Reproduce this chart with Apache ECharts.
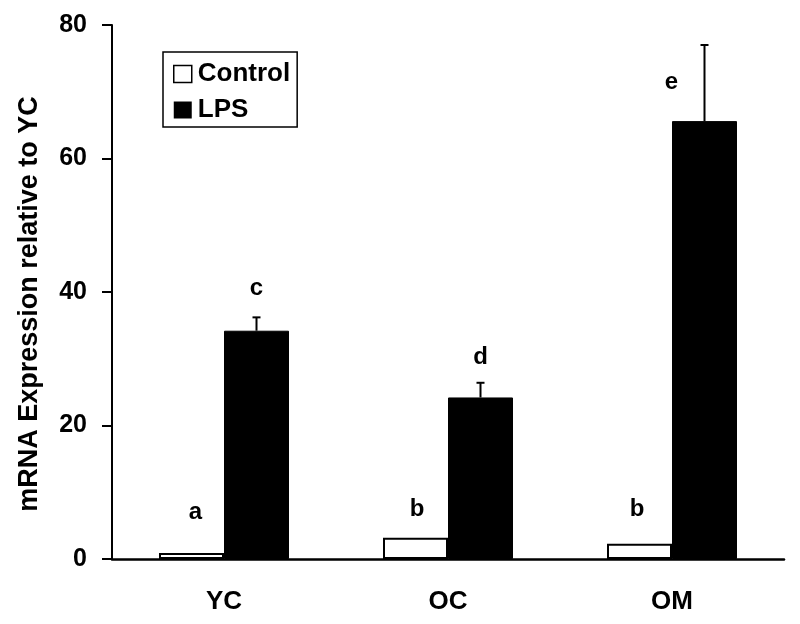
<!DOCTYPE html>
<html>
<head>
<meta charset="utf-8">
<script src="https://cdn.jsdelivr.net/npm/echarts@6/dist/echarts.min.js"></script>
<style>
html,body{margin:0;padding:0;background:#fff;}
#chart{width:800px;height:624px;}
</style>
</head>
<body>
<div id="chart"></div>
<script>
// ---- data ----
const categories = ['YC', 'OC', 'OM'];
const seriesNames = ['Control', 'LPS'];
const controlValues = [0.9, 3.2, 2.3];
const controlErrors = [0, 0, 0];
const lpsValues = [34.2, 24.2, 65.6];
const lpsErrors = [2.0, 2.2, 11.4];
const controlLetters = ['a', 'b', 'b'];
const lpsLetters = ['c', 'd', 'e'];
const yTicks = { min: 0, max: 80, interval: 20 };
const yAxisTitle = 'mRNA Expression relative to YC';

// ---- style ----
const FONT = "'Liberation Sans', Arial, sans-serif";
const BAR_W = 65;
const controlLetterOffset = [[4, -41], [1.5, -28], [-2.5, -34]];
const lpsLetterOffset = [[0, -29], [0, -25], [-33, 37]];

function makeRender(dx, letters, offsets) {
  return function (params, api) {
    const i = api.value(0), v = api.value(1), e = api.value(2);
    const base = api.coord([i, v]);
    const top = api.coord([i, v + e]);
    const x = base[0] + dx;
    const children = [];
    if (e > 0) {
      children.push({ type: 'line', shape: { x1: x, y1: base[1], x2: x, y2: top[1] }, style: { stroke: '#000', lineWidth: 2 } });
      children.push({ type: 'line', shape: { x1: x - 4, y1: top[1], x2: x + 4, y2: top[1] }, style: { stroke: '#000', lineWidth: 2 } });
    }
    const off = offsets[params.dataIndex];
    children.push({
      type: 'text',
      style: {
        x: x + off[0], y: top[1] + off[1], text: letters[params.dataIndex],
        fill: '#000', font: 'bold 24px ' + FONT, align: 'center', verticalAlign: 'middle'
      }
    });
    return { type: 'group', children: children };
  };
}

const chart = echarts.init(document.getElementById('chart'));
chart.setOption({
  backgroundColor: '#fff',
  animation: false,
  grid: { left: 112, right: 16, top: 25, bottom: 65 },
  legend: {
    orient: 'vertical', left: 163, top: 52,
    data: [
      { name: seriesNames[0], itemStyle: { color: '#fff', borderColor: '#000', borderWidth: 1.5 } },
      { name: seriesNames[1], itemStyle: { color: '#000', borderWidth: 0 } }
    ],
    itemWidth: 18, itemHeight: 17, itemGap: 10,
    padding: [9, 7, 4, 10],
    borderColor: '#000', borderWidth: 1.5,
    icon: 'rect',
    textStyle: { fontFamily: FONT, fontSize: 26, fontWeight: 'bold', color: '#000', padding: [0, 0, 0, 1] }
  },
  xAxis: {
    type: 'category', data: categories,
    axisLine: { lineStyle: { color: '#000', width: 2.5 } },
    axisTick: { show: false },
    axisLabel: { fontFamily: FONT, fontSize: 26, fontWeight: 'bold', color: '#000', margin: 30 }
  },
  yAxis: {
    type: 'value', min: yTicks.min, max: yTicks.max, interval: yTicks.interval,
    name: yAxisTitle, nameLocation: 'middle', nameGap: 69,
    nameTextStyle: { fontFamily: FONT, fontSize: 27, fontWeight: 'bold', color: '#000', padding: [0, 24, 0, 0] },
    axisLine: { show: true, lineStyle: { color: '#000', width: 2 } },
    axisTick: { show: true, length: 10, lineStyle: { color: '#000', width: 2 } },
    splitLine: { show: false },
    axisLabel: { fontFamily: FONT, fontSize: 25, fontWeight: 'bold', color: '#000', margin: 25 }
  },
  series: [
    {
      name: seriesNames[0], type: 'bar', data: controlValues, barWidth: BAR_W, barGap: '0%',
      itemStyle: { color: '#fff', borderColor: '#000', borderWidth: 2 }
    },
    {
      name: seriesNames[1], type: 'bar', data: lpsValues, barWidth: BAR_W, barGap: '0%',
      itemStyle: { color: '#000', borderColor: '#000', borderWidth: 1 }
    },
    {
      name: 'controlErr', type: 'custom', z: 5,
      data: controlValues.map((v, i) => [i, v, controlErrors[i]]),
      encode: { x: 0, y: 1 },
      renderItem: makeRender(-BAR_W / 2, controlLetters, controlLetterOffset)
    },
    {
      name: 'lpsErr', type: 'custom', z: 5,
      data: lpsValues.map((v, i) => [i, v, lpsErrors[i]]),
      encode: { x: 0, y: 1 },
      renderItem: makeRender(BAR_W / 2, lpsLetters, lpsLetterOffset)
    }
  ]
});
</script>
</body>
</html>
